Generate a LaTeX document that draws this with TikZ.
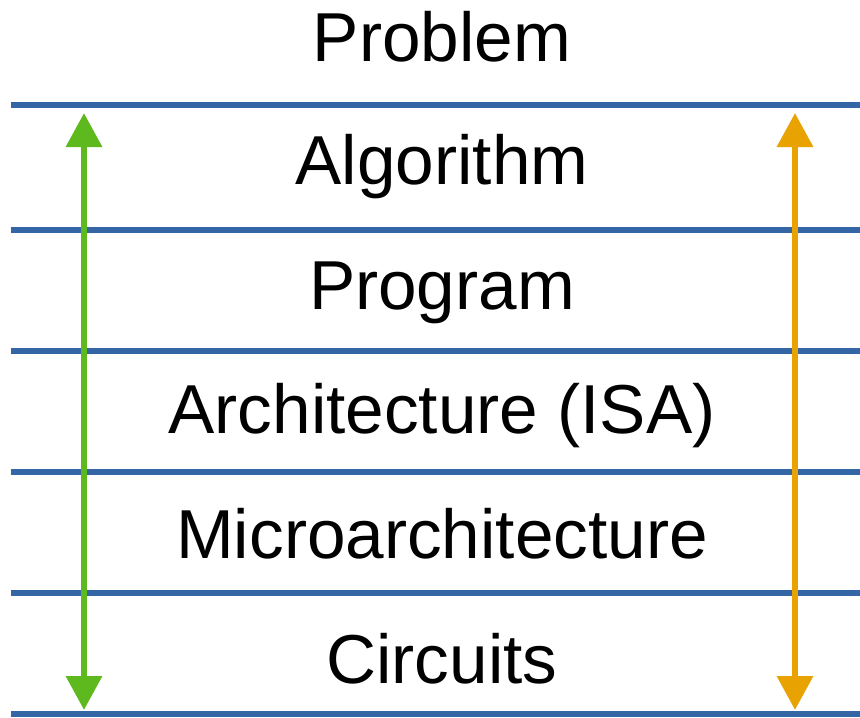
\documentclass[tikz,border=0pt]{standalone}
\usepackage{fontspec}
\setmainfont{Liberation Sans}
\usetikzlibrary{arrows.meta}
\definecolor{layerblue}{HTML}{3465A4}
\definecolor{upgreen}{HTML}{5EB91E}
\definecolor{uporange}{HTML}{E8A202}
\tikzset{
  divider/.style={draw=layerblue, line width=6pt},
  layertext/.style={anchor=base, inner sep=0pt, font=\fontsize{69.3pt}{80pt}\selectfont},
  span/.style={line width=6.5pt, {Triangle[width=35pt,length=34pt]}-{Triangle[width=35pt,length=34pt]}}
}
\begin{document}
\begin{tikzpicture}[x=1pt,y=-1pt]
  \useasboundingbox (0,0) rectangle (860,718);
  % horizontal dividers between the abstraction layers
  \foreach \yy in {105,230,351,472,593,714}
    \draw[divider] (11,\yy) -- (860,\yy);
  % layer labels
  \node[layertext] (problem) at (442,61) {Problem};
  \node[layertext] (algorithm) at (442,184) {Algorithm};
  \node[layertext] (program) at (442,309) {Program};
  \node[layertext] (isa) at (442,433) {Architecture (ISA)};
  \node[layertext] (uarch) at (442,558) {Microarchitecture};
  \node[layertext] (circuits) at (442,683) {Circuits};
  % end points of the two double arrows
  \coordinate (gtop) at (84,113);
  \coordinate (gbot) at (84,710);
  \coordinate (otop) at (795,113);
  \coordinate (obot) at (795,710);
  \draw[span, upgreen] (gtop) -- (gbot);
  \draw[span, uporange] (otop) -- (obot);
\end{tikzpicture}
\end{document}
